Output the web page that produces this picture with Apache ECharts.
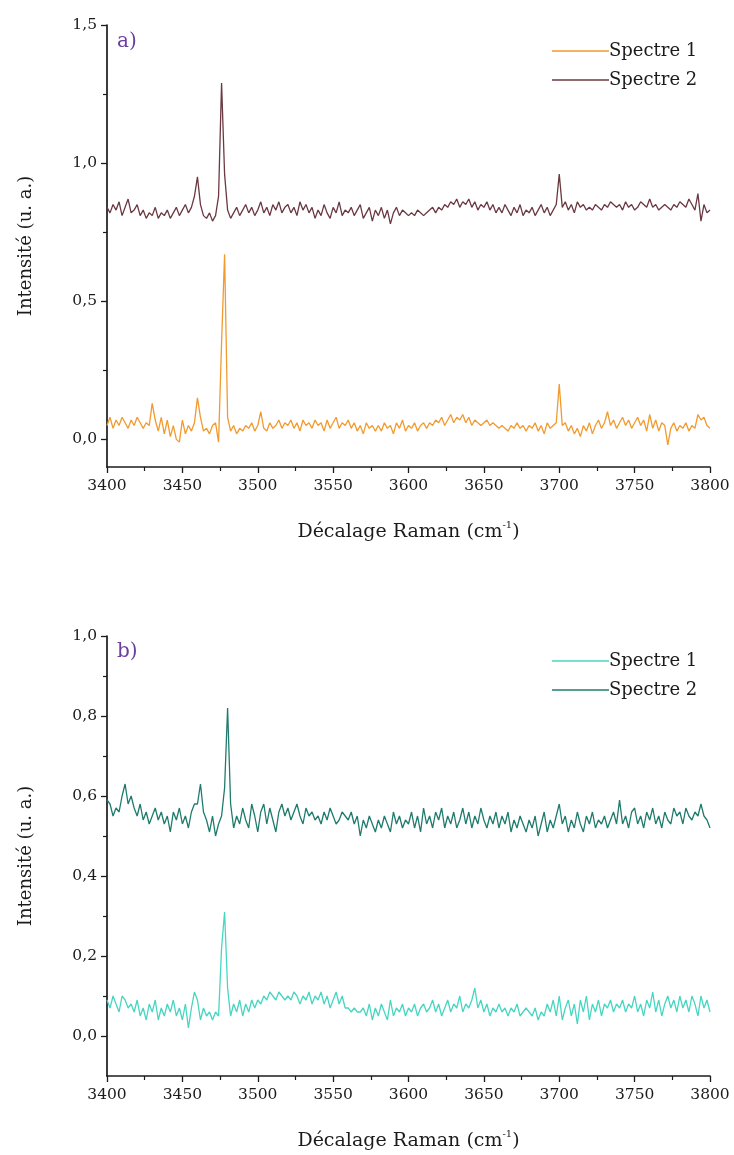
<!DOCTYPE html>
<html>
<head>
<meta charset="utf-8">
<script src="https://cdn.jsdelivr.net/npm/echarts@6/dist/echarts.min.js"></script>
<style>
html,body{margin:0;padding:0;background:#fff;}
#chart{width:734px;height:1155px;}
</style>
</head>
<body>
<div id="chart"></div>
<script>
// Raman shift (cm-1)
const shifts = [
3400,3402,3404,3406,3408,3410,3412,3414,3416,3418,
3420,3422,3424,3426,3428,3430,3432,3434,3436,3438,
3440,3442,3444,3446,3448,3450,3452,3454,3456,3458,
3460,3462,3464,3466,3468,3470,3472,3474,3476,3478,
3480,3482,3484,3486,3488,3490,3492,3494,3496,3498,
3500,3502,3504,3506,3508,3510,3512,3514,3516,3518,
3520,3522,3524,3526,3528,3530,3532,3534,3536,3538,
3540,3542,3544,3546,3548,3550,3552,3554,3556,3558,
3560,3562,3564,3566,3568,3570,3572,3574,3576,3578,
3580,3582,3584,3586,3588,3590,3592,3594,3596,3598,
3600,3602,3604,3606,3608,3610,3612,3614,3616,3618,
3620,3622,3624,3626,3628,3630,3632,3634,3636,3638,
3640,3642,3644,3646,3648,3650,3652,3654,3656,3658,
3660,3662,3664,3666,3668,3670,3672,3674,3676,3678,
3680,3682,3684,3686,3688,3690,3692,3694,3696,3698,
3700,3702,3704,3706,3708,3710,3712,3714,3716,3718,
3720,3722,3724,3726,3728,3730,3732,3734,3736,3738,
3740,3742,3744,3746,3748,3750,3752,3754,3756,3758,
3760,3762,3764,3766,3768,3770,3772,3774,3776,3778,
3780,3782,3784,3786,3788,3790,3792,3794,3796,3798,
3800];

// Panel a) Spectre 1
const a_spectre1 = [
0.05,0.08,0.04,0.07,0.05,0.08,0.06,0.04,0.07,0.05,
0.08,0.06,0.04,0.06,0.05,0.13,0.07,0.03,0.08,0.02,
0.07,0.01,0.05,0.00,-0.01,0.07,0.02,0.05,0.03,0.06,
0.15,0.08,0.03,0.04,0.02,0.05,0.06,-0.01,0.35,0.67,
0.08,0.03,0.05,0.02,0.04,0.03,0.05,0.04,0.06,0.03,
0.05,0.10,0.04,0.03,0.06,0.04,0.05,0.07,0.04,0.06,
0.05,0.07,0.04,0.06,0.03,0.07,0.05,0.06,0.04,0.07,
0.05,0.06,0.03,0.07,0.04,0.06,0.08,0.04,0.06,0.05,
0.07,0.04,0.06,0.03,0.05,0.02,0.06,0.04,0.05,0.03,
0.05,0.03,0.06,0.04,0.05,0.02,0.06,0.04,0.07,0.03,
0.05,0.04,0.06,0.03,0.05,0.06,0.04,0.06,0.05,0.07,
0.06,0.08,0.05,0.07,0.09,0.06,0.08,0.07,0.09,0.06,
0.08,0.05,0.07,0.06,0.05,0.06,0.07,0.05,0.06,0.05,
0.04,0.05,0.04,0.03,0.05,0.04,0.06,0.04,0.05,0.03,
0.05,0.04,0.06,0.03,0.05,0.02,0.06,0.04,0.05,0.06,
0.20,0.05,0.06,0.03,0.05,0.02,0.04,0.01,0.05,0.03,
0.06,0.02,0.05,0.07,0.04,0.06,0.10,0.05,0.07,0.04,
0.06,0.08,0.05,0.07,0.04,0.06,0.08,0.05,0.07,0.03,
0.09,0.04,0.07,0.03,0.06,0.05,-0.02,0.04,0.06,0.03,
0.05,0.04,0.06,0.03,0.05,0.04,0.09,0.07,0.08,0.05,
0.04];

// Panel a) Spectre 2
const a_spectre2 = [
0.84,0.82,0.85,0.83,0.86,0.81,0.84,0.87,0.82,0.83,
0.85,0.81,0.83,0.80,0.82,0.81,0.84,0.80,0.82,0.81,
0.83,0.80,0.82,0.84,0.81,0.83,0.85,0.82,0.84,0.88,
0.95,0.85,0.81,0.80,0.82,0.79,0.81,0.88,1.29,0.96,
0.83,0.80,0.82,0.84,0.81,0.83,0.85,0.82,0.84,0.81,
0.83,0.86,0.82,0.84,0.81,0.85,0.83,0.86,0.82,0.84,
0.85,0.82,0.84,0.81,0.86,0.83,0.85,0.82,0.84,0.80,
0.83,0.81,0.85,0.82,0.80,0.84,0.82,0.86,0.81,0.83,
0.82,0.84,0.81,0.83,0.85,0.80,0.82,0.84,0.79,0.83,
0.81,0.84,0.80,0.83,0.78,0.82,0.84,0.81,0.83,0.82,
0.81,0.82,0.81,0.83,0.82,0.81,0.82,0.83,0.84,0.82,
0.84,0.83,0.85,0.84,0.86,0.85,0.87,0.84,0.86,0.85,
0.87,0.84,0.86,0.83,0.85,0.84,0.86,0.83,0.85,0.82,
0.84,0.82,0.85,0.83,0.81,0.84,0.82,0.85,0.81,0.83,
0.82,0.84,0.81,0.83,0.85,0.82,0.84,0.81,0.83,0.85,
0.96,0.84,0.86,0.83,0.85,0.82,0.86,0.84,0.85,0.83,
0.84,0.83,0.85,0.84,0.83,0.85,0.84,0.86,0.85,0.84,
0.85,0.83,0.86,0.84,0.85,0.83,0.84,0.86,0.85,0.84,
0.87,0.84,0.85,0.83,0.84,0.85,0.84,0.83,0.85,0.84,
0.86,0.85,0.84,0.87,0.85,0.83,0.89,0.79,0.85,0.82,
0.83];

// Panel b) Spectre 1
const b_spectre1 = [
0.09,0.07,0.10,0.08,0.06,0.10,0.09,0.07,0.08,0.06,
0.09,0.05,0.07,0.04,0.08,0.06,0.09,0.04,0.07,0.05,
0.08,0.06,0.09,0.05,0.07,0.04,0.08,0.02,0.07,0.11,
0.09,0.04,0.07,0.05,0.06,0.04,0.06,0.05,0.22,0.31,
0.12,0.05,0.08,0.06,0.09,0.05,0.08,0.06,0.09,0.07,
0.09,0.08,0.10,0.09,0.11,0.10,0.09,0.11,0.10,0.09,
0.10,0.09,0.11,0.10,0.08,0.10,0.09,0.11,0.08,0.10,
0.09,0.11,0.08,0.10,0.07,0.09,0.11,0.08,0.10,0.07,
0.07,0.06,0.07,0.06,0.06,0.07,0.05,0.08,0.04,0.07,
0.05,0.08,0.06,0.04,0.09,0.05,0.07,0.06,0.08,0.05,
0.07,0.06,0.08,0.05,0.07,0.08,0.06,0.07,0.09,0.06,
0.08,0.05,0.07,0.09,0.06,0.08,0.07,0.10,0.06,0.08,
0.07,0.09,0.12,0.07,0.09,0.06,0.08,0.05,0.07,0.06,
0.08,0.06,0.07,0.05,0.07,0.06,0.08,0.05,0.06,0.07,
0.06,0.05,0.07,0.04,0.06,0.05,0.08,0.06,0.09,0.05,
0.10,0.04,0.07,0.09,0.05,0.08,0.03,0.09,0.06,0.10,
0.04,0.08,0.06,0.09,0.05,0.08,0.07,0.09,0.06,0.08,
0.07,0.09,0.06,0.08,0.07,0.10,0.06,0.08,0.05,0.09,
0.07,0.11,0.06,0.09,0.05,0.08,0.10,0.07,0.09,0.06,
0.10,0.07,0.09,0.06,0.10,0.08,0.05,0.10,0.07,0.09,
0.06];

// Panel b) Spectre 2
const b_spectre2 = [
0.59,0.58,0.55,0.57,0.56,0.60,0.63,0.58,0.60,0.57,
0.55,0.58,0.54,0.56,0.53,0.55,0.57,0.54,0.56,0.53,
0.55,0.51,0.56,0.54,0.57,0.53,0.55,0.52,0.56,0.58,
0.58,0.63,0.56,0.54,0.51,0.55,0.50,0.53,0.55,0.62,
0.82,0.58,0.52,0.55,0.53,0.57,0.54,0.52,0.58,0.55,
0.51,0.56,0.58,0.53,0.57,0.54,0.51,0.56,0.58,0.55,
0.57,0.54,0.56,0.58,0.55,0.53,0.57,0.55,0.56,0.54,
0.55,0.53,0.56,0.54,0.57,0.55,0.53,0.54,0.56,0.55,
0.54,0.56,0.53,0.55,0.50,0.54,0.52,0.55,0.53,0.51,
0.54,0.52,0.55,0.53,0.51,0.56,0.53,0.55,0.52,0.54,
0.53,0.56,0.52,0.55,0.51,0.57,0.53,0.55,0.52,0.56,
0.54,0.57,0.52,0.55,0.53,0.56,0.52,0.54,0.57,0.53,
0.56,0.52,0.55,0.53,0.57,0.54,0.52,0.55,0.53,0.56,
0.52,0.55,0.53,0.56,0.51,0.54,0.52,0.55,0.53,0.51,
0.54,0.52,0.55,0.50,0.53,0.56,0.51,0.54,0.52,0.55,
0.58,0.53,0.55,0.51,0.54,0.52,0.56,0.53,0.51,0.55,
0.53,0.56,0.52,0.54,0.53,0.55,0.52,0.54,0.56,0.53,
0.59,0.53,0.55,0.52,0.56,0.57,0.53,0.55,0.52,0.56,
0.54,0.57,0.53,0.55,0.52,0.56,0.54,0.53,0.57,0.55,
0.56,0.53,0.57,0.55,0.54,0.56,0.55,0.58,0.55,0.54,
0.52];

const xTicks = [3400,3450,3500,3550,3600,3650,3700,3750,3800];
const aYTicks = [0.0,0.5,1.0,1.5];
const aYMinor = [0.25,0.75,1.25];
const bYTicks = [0.0,0.2,0.4,0.6,0.8,1.0];
const bYMinor = [0.1,0.3,0.5,0.7,0.9];
const seriesNames = ['Spectre 1','Spectre 2'];
const panelLabels = ['a)','b)'];
const yTitle = 'Intensité (u. a.)';

const FONT = '"DejaVu Serif", "Liberation Serif", serif';
const INK = '#1b1b1b';
const pair = (ys) => shifts.map((x, i) => [x, ys[i]]);
const fmt = (v) => v.toFixed(1).replace('.', ',');

const chart = echarts.init(document.getElementById('chart'), null, {renderer: 'canvas'});

function xAxisDef(gi) {
  return {
    type: 'value', gridIndex: gi, min: 3400, max: 3800, interval: 50,
    axisLine: {show: true, onZero: false, lineStyle: {color: INK, width: 1.7}},
    axisTick: {show: true, length: 6, lineStyle: {color: INK, width: 1.3}},
    minorTick: {show: true, splitNumber: 2, length: 4, lineStyle: {color: INK, width: 1.2}},
    axisLabel: {color: INK, fontFamily: FONT, fontSize: 15.5, margin: 11, customValues: xTicks,
      formatter: (v) => String(v)},
    splitLine: {show: false},
    name: '{t|Décalage Raman (cm}{s|-1}{t|)}',
    nameLocation: 'middle', nameGap: 53,
    nameTextStyle: {
      rich: {
        t: {fontFamily: FONT, fontSize: 19, color: INK, lineHeight: 24},
        s: {fontFamily: FONT, fontSize: 10, color: INK, lineHeight: 24, verticalAlign: 'top', padding: [0, 0, 10, 0]}
      }
    }
  };
}
function yMajor(gi, min, max, ticks) {
  return {
    type: 'value', gridIndex: gi, min: min, max: max, position: 'left',
    axisLine: {show: true, onZero: false, lineStyle: {color: INK, width: 1.7}},
    axisTick: {show: true, length: 6, customValues: ticks, lineStyle: {color: INK, width: 1.3}},
    axisLabel: {color: INK, fontFamily: FONT, fontSize: 15.5, margin: 10, customValues: ticks, formatter: fmt},
    splitLine: {show: false},
    name: yTitle, nameLocation: 'middle', nameRotate: 90, nameGap: 72,
    nameTextStyle: {fontFamily: FONT, fontSize: 18, color: INK}
  };
}
function yMinor(gi, min, max, ticks) {
  return {
    type: 'value', gridIndex: gi, min: min, max: max, position: 'left', offset: 0,
    axisLine: {show: false, onZero: false},
    axisTick: {show: true, length: 4, customValues: ticks, lineStyle: {color: INK, width: 1.2}},
    axisLabel: {show: false},
    splitLine: {show: false}
  };
}
function lineSeries(name, xi, yi, ys, color) {
  return {
    type: 'line', name: name, xAxisIndex: xi, yAxisIndex: yi,
    data: pair(ys), showSymbol: false, symbol: 'none', smooth: false,
    lineStyle: {color: color, width: 1.3}, itemStyle: {color: color},
    animation: false, z: 3
  };
}
function legendDef(top, names) {
  return {
    data: names, orient: 'vertical', left: 547, top: top,
    icon: 'rect', itemWidth: 57, itemHeight: 1.6, itemGap: 9,
    selectedMode: false,
    formatter: (n) => n.split('|')[1],
    textStyle: {fontFamily: FONT, fontSize: 18, color: INK, padding: [0, 0, 0, -5], lineHeight: 20}
  };
}

const option = {
  backgroundColor: '#fff',
  animation: false,
  grid: [
    {left: 107, right: 24, top: 25, height: 442},
    {left: 107, right: 24, top: 636, height: 440}
  ],
  xAxis: [xAxisDef(0), xAxisDef(1)],
  yAxis: [
    yMajor(0, -0.1, 1.5, aYTicks), yMinor(0, -0.1, 1.5, aYMinor),
    yMajor(1, -0.1, 1.0, bYTicks), yMinor(1, -0.1, 1.0, bYMinor)
  ],
  legend: [
    legendDef(36, ['a|' + seriesNames[0], 'a|' + seriesNames[1]]),
    legendDef(646, ['b|' + seriesNames[0], 'b|' + seriesNames[1]])
  ],
  graphic: [
    {type: 'text', left: 117, top: 32, style: {text: panelLabels[0], fontFamily: FONT, fontSize: 20, fill: '#6a3f9e'}},
    {type: 'text', left: 117, top: 642, style: {text: panelLabels[1], fontFamily: FONT, fontSize: 20, fill: '#6a3f9e'}}
  ],
  series: [
    lineSeries('a|' + seriesNames[0], 0, 0, a_spectre1, '#f29a2e'),
    lineSeries('a|' + seriesNames[1], 0, 0, a_spectre2, '#6b3942'),
    lineSeries('b|' + seriesNames[0], 1, 2, b_spectre1, '#48d6c2'),
    lineSeries('b|' + seriesNames[1], 1, 2, b_spectre2, '#1f7b6d')
  ]
};
chart.setOption(option);
</script>
</body>
</html>
